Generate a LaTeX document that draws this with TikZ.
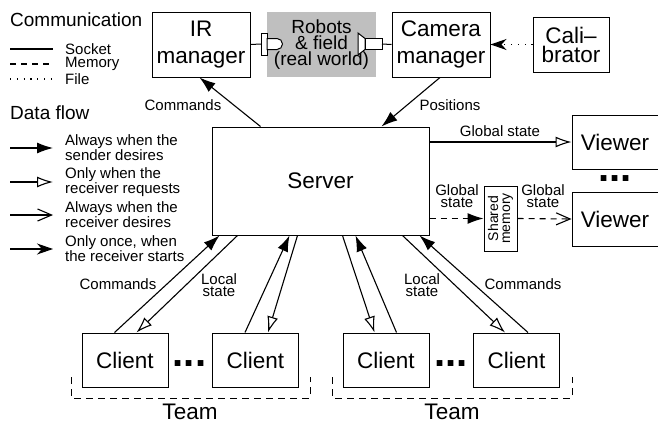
\documentclass[tikz,border=0pt]{standalone}
\usepackage{fontspec}
\setmainfont{Liberation Sans}
\usetikzlibrary{arrows.meta}

\tikzset{
  unit/.style={draw, line width=1pt, align=center, inner sep=0pt, font=\fontsize{22.5}{27}\selectfont},
  lbl/.style={align=center, inner sep=0pt, font=\fontsize{15}{12}\selectfont},
  heading/.style={anchor=west, inner sep=0pt, font=\fontsize{19}{22}\selectfont},
  keytext/.style={anchor=west, align=left, inner sep=0pt, font=\fontsize{15}{12}\selectfont},
  flow/.style={line width=1.1pt},
  sends/.style={-{Latex[length=16pt,width=11pt]}},
  requests/.style={-{Latex[open,length=16pt,width=11pt]}},
  desires/.style={-{Straight Barb[length=14pt,width=12pt]}},
  once/.style={-{Stealth[length=16pt,width=11pt,inset=5pt]}},
  memline/.style={dash pattern=on 6pt off 5pt},
  fileline/.style={dash pattern=on 1.2pt off 5.6pt},
  moredots/.style={anchor=base, inner sep=0pt, font=\fontsize{40}{40}\selectfont\bfseries}
}

\begin{document}
\begin{tikzpicture}[x=1pt,y=-1pt]
\useasboundingbox (0,0) rectangle (658,423);

% legend: communication
\node[heading] (commhead) at (10,20) {Communication};
\draw[flow] (10,49) -- (53,49);
\draw[flow,memline] (10,64) -- (53,64);
\draw[flow,fileline] (10,79) -- (53,79);
\node[keytext] (socketkey) at (65,49) {Socket};
\node[keytext] (memkey) at (65,64) {Memory};
\node[keytext] (filekey) at (65,79) {File};

% legend: data flow
\node[heading] (flowhead) at (10,113) {Data flow};
\draw[flow,sends] (10,148) -- (53,148);
\draw[flow,requests] (10,182) -- (53,182);
\draw[flow,desires] (10,215) -- (53,215);
\draw[flow,once] (10,249) -- (53,249);
\node[keytext] (sendkey) at (65,148) {Always when the\\sender desires};
\node[keytext] (reqkey) at (65,182) {Only when the\\receiver requests};
\node[keytext] (deskey) at (65,215) {Always when the\\receiver desires};
\node[keytext] (oncekey) at (65,249) {Only once, when\\the receiver starts};

% top row
\node[unit, minimum width=98, minimum height=65] (irm) at (201,44.5) {IR\\manager};
\node[fill=gray!50, minimum width=109, minimum height=65, inner sep=0pt, align=center,
      font=\fontsize{19}{16}\selectfont] (world) at (321.5,44.5) {Robots\\\& field\\(real world)};
\node[unit, minimum width=98, minimum height=65] (cam) at (441,44.5) {Camera\\manager};
\node[unit, minimum width=76, minimum height=55, font=\fontsize{22.5}{19}\selectfont] (cal) at (571,44.5) {Cali–\\brator};

% IR transmitter and camera lens
\coordinate (irled) at (261,44);
\coordinate (lens) at (382,44);
\draw[line width=1pt] (irm.east) -- (irled);
\draw[line width=1pt, fill=white] (261,33) rectangle (267,55);
\draw[line width=1pt, fill=white] (267,38.5) -- (277,38.5) arc[start angle=-90, end angle=90, radius=5.5] -- (267,49.5) -- cycle;
\draw[line width=1pt, fill=white] (358,33) -- (365,38.5) -- (365,49.5) -- (358,55) -- cycle;
\draw[line width=1pt, fill=white] (365,38.5) rectangle (382,49.5);
\draw[line width=1pt] (lens) -- (cam.west);
\draw[flow,fileline,once] (cal.west) -- (cam.east);

% server and viewers
\node[unit, minimum width=217, minimum height=108] (srv) at (320.5,181) {Server};
\node[unit, minimum width=86, minimum height=54] (vw1) at (615,142) {Viewer};
\node[unit, minimum width=86, minimum height=54] (vw2) at (615,219) {Viewer};
\node[moredots] (vwdots) at (615,181) {...};
\node[draw, line width=1pt, minimum width=33, minimum height=65, inner sep=0pt] (shm) at (500.5,218.5) {};
\node[rotate=90, align=center, inner sep=0pt, font=\fontsize{14}{12}\selectfont] (shmtext) at (shm) {Shared\\memory};

\draw[flow,sends] ([xshift=49]srv.north west) -- ([xshift=48]irm.south west);
\node[lbl] (cmdir) at (183,105) {Commands};
\draw[flow,sends] ([xshift=-1]cam.south) -- ([xshift=170]srv.north west);
\node[lbl] (poscam) at (450,105) {Positions};

\draw[flow,requests] (srv.east |- vw1.west) -- (vw1.west);
\node[lbl] (gsview) at (500,131) {Global state};
\draw[flow,memline,sends] (srv.east |- shm.west) -- (shm.west);
\draw[flow,memline,desires] (shm.east) -- (vw2.west);
\node[lbl] (gsmem) at (457,196) {Global\\state};
\node[lbl] (gsread) at (543,196) {Global\\state};

% clients
\node[unit, minimum width=86, minimum height=54] (cl1) at (125,360) {Client};
\node[unit, minimum width=86, minimum height=54] (cl2) at (255.5,360) {Client};
\node[unit, minimum width=86, minimum height=54] (cl3) at (386,360) {Client};
\node[unit, minimum width=86, minimum height=54] (cl4) at (516.5,360) {Client};
\node[moredots] (cldots1) at (189.5,366) {...};
\node[moredots] (cldots2) at (451,366) {...};

\draw[flow,sends] ([xshift=33]cl1.north west) -- ([xshift=8]srv.south west);
\draw[flow,requests] ([xshift=26]srv.south west) -- ([xshift=55]cl1.north west);
\draw[flow,sends] ([xshift=33]cl2.north west) -- ([xshift=78]srv.south west);
\draw[flow,requests] ([xshift=86]srv.south west) -- ([xshift=56]cl2.north west);
\draw[flow,requests] ([xshift=131]srv.south west) -- ([xshift=32]cl3.north west);
\draw[flow,sends] ([xshift=54]cl3.north west) -- ([xshift=144]srv.south west);
\draw[flow,requests] ([xshift=191]srv.south west) -- ([xshift=32]cl4.north west);
\draw[flow,sends] ([xshift=55]cl4.north west) -- ([xshift=208]srv.south west);
\node[lbl] (cmdleft) at (118,284) {Commands};
\node[lbl] (lsleft) at (219,285) {Local\\state};
\node[lbl] (lsright) at (422,285) {Local\\state};
\node[lbl] (cmdright) at (523,284) {Commands};

% teams
\draw[line width=0.9pt, dash pattern=on 7pt off 5pt] (71,377) -- (71,398) -- (310,398) -- (310,377);
\draw[line width=0.9pt, dash pattern=on 7pt off 5pt] (332,377) -- (332,398) -- (572,398) -- (572,377);
\node[inner sep=0pt, font=\fontsize{22.5}{27}\selectfont] (team1) at (190,412) {Team};
\node[inner sep=0pt, font=\fontsize{22.5}{27}\selectfont] (team2) at (452,412) {Team};
\end{tikzpicture}
\end{document}
